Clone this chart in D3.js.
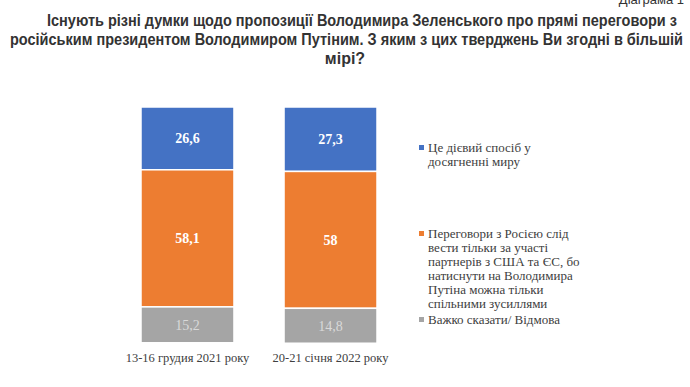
<!DOCTYPE html>
<html>
<head>
<meta charset="utf-8">
<script src="https://cdn.jsdelivr.net/npm/d3@7"></script>
<style>
  body { margin: 0; background: #fff; }
  svg { display: block; }
  .serif { font-family: "Liberation Serif", "Times New Roman", serif; }
  .sans { font-family: "Liberation Sans", Arial, sans-serif; }
</style>
</head>
<body>
<div id="chart"></div>
<script>

// survey waves (x categories)
const waves = ["13-16 грудия 2021 року", "20-21 січня 2022 року"];

// answer options, stacked from top to bottom
const answers = ["effective", "partners", "hard"];
const legendLines = [
    ["Це дієвий спосіб у", "досягненні миру"],
    ["Переговори з Росією слід", "вести тільки за участі", "партнерів з США та ЄС, бо",
     "натиснути на Володимира", "Путіна можна тільки", "спільними зусиллями"],
    ["Важко сказати/ Відмова"]
];

// values per answer, one entry per wave
const effectiveVals = [26.6, 27.3];
const partnersVals = [58.1, 58];
const hardVals = [15.2, 14.8];

const titleLines = [
    "Існують різні думки щодо пропозиції Володимира Зеленського про прямі переговори з",
    "російським президентом Володимиром Путіним. З яким з цих тверджень Ви згодні в більшій",
    "мірі?"
];

const colors = {effective: "#4472C4", partners: "#ED7D31", hard: "#A5A5A5"};

let width = 690, height = 387;

let svg = d3.select("#chart").append("svg")
    .attr("width", width)
    .attr("height", height);

// corner caption, mostly cut off (as in the source page)
svg.append("text")
    .attr("class", "sans")
    .attr("x", 684)
    .attr("y", 4)
    .attr("text-anchor", "end")
    .attr("font-size", 13)
    .attr("fill", "#333")
    .text("Діаграма 1");

// title
let title = svg.append("g")
    .attr("class", "sans")
    .attr("font-weight", "bold")
    .attr("font-size", 16)
    .attr("fill", "#333");

title.append("text").attr("x", 47).attr("y", 26)
    .attr("textLength", 630).attr("lengthAdjust", "spacingAndGlyphs")
    .text(titleLines[0]);
title.append("text").attr("x", 10).attr("y", 45)
    .attr("textLength", 673).attr("lengthAdjust", "spacingAndGlyphs")
    .text(titleLines[1]);
title.append("text").attr("x", 345).attr("y", 64)
    .attr("text-anchor", "middle")
    .text(titleLines[2]);

// build stack table
let table = waves.map((w, i) => ({
    wave: w,
    effective: effectiveVals[i],
    partners: partnersVals[i],
    hard: hardVals[i]
}));

let stack = d3.stack().keys(answers);
let series = stack(table);

let x = d3.scaleBand()
    .domain(waves)
    .range([141, 377])
    .paddingInner(0.35)
    .paddingOuter(0);

// top of chart = start of stack (blue first)
let y = d3.scaleLinear()
    .domain([0, 100])
    .range([107, 343]);

let groups = svg.selectAll(".serie")
    .data(series)
    .enter()
    .append("g")
    .attr("class", "serie")
    .attr("fill", d => colors[d.key]);

groups.selectAll("rect")
    .data(d => d)
    .enter()
    .append("rect")
    .attr("x", d => x(d.data.wave))
    .attr("y", d => y(d[0]))
    .attr("width", x.bandwidth())
    .attr("height", d => y(d[1]) - y(d[0]))
    .attr("stroke", "#fff")
    .attr("stroke-width", 1.5);

// value labels
groups.each(function(s) {
    let isHard = s.key === "hard";
    d3.select(this).selectAll("text")
        .data(s)
        .enter()
        .append("text")
        .attr("class", "serif")
        .attr("x", d => x(d.data.wave) + x.bandwidth() / 2)
        .attr("y", d => (y(d[0]) + y(d[1])) / 2 + 5)
        .attr("text-anchor", "middle")
        .attr("font-size", 14)
        .attr("font-weight", isHard ? "normal" : "bold")
        .attr("fill", isHard ? "#D9D9D9" : "#fff")
        .text(d => String(d.data[s.key]).replace(".", ","));
});

// category axis labels
svg.append("g")
    .selectAll("text")
    .data(waves)
    .enter()
    .append("text")
    .attr("class", "serif")
    .attr("x", d => x(d) + x.bandwidth() / 2)
    .attr("y", 362)
    .attr("text-anchor", "middle")
    .attr("font-size", 12.5)
    .attr("fill", "#404040")
    .text(d => d);

// legend
let legendTop = [152, 238, 324];
let legend = svg.append("g")
    .attr("class", "serif")
    .attr("font-size", 13)
    .attr("fill", "#404040");

answers.forEach((a, i) => {
    legend.append("rect")
        .attr("x", 419)
        .attr("y", legendTop[i] - 7)
        .attr("width", 5)
        .attr("height", 5)
        .attr("fill", colors[a]);
    legendLines[i].forEach((line, j) => {
        legend.append("text")
            .attr("x", 428)
            .attr("y", legendTop[i] + j * 14)
            .text(line);
    });
});

</script>
</body>
</html>
